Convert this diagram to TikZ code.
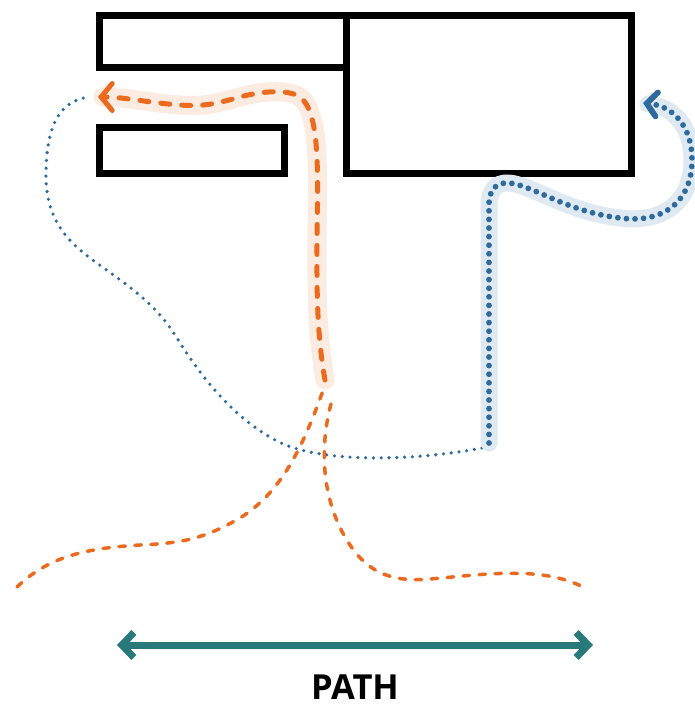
\documentclass[tikz,border=0pt]{standalone}
\usepackage{fontspec}
\setmainfont{Open Sans}
\usetikzlibrary{arrows.meta}
\definecolor{orangeC}{HTML}{EC6A1E}
\definecolor{orangeHalo}{HTML}{FCEBE1}
\definecolor{blueC}{HTML}{2E6A9C}
\definecolor{blueHalo}{HTML}{DFE9F2}
\definecolor{tealC}{HTML}{28797A}
\tikzset{
  wall/.style={draw=black, line width=7pt, miter limit=10},
  thickdash/.style={draw=orangeC, line width=5pt, line cap=round, dash pattern=on 9pt off 12pt},
  orangehalo/.style={draw=orangeHalo, line width=19pt, line cap=round, line join=round},
  thickdots/.style={draw=blueC, line width=5.8pt, line cap=round, dash pattern=on 0pt off 8.6pt},
  bluehalo/.style={draw=blueHalo, line width=17pt, line cap=round, line join=round},
  thindash/.style={draw=orangeC, line width=3.5pt, line cap=round, dash pattern=on 6.5pt off 9.5pt},
  thindots/.style={draw=blueC, line width=3.6pt, line cap=round, dash pattern=on 0pt off 7.8pt},
  obarb/.style={-{Straight Barb[length=11pt,width=27pt,line cap=round]}},
  bbarb/.style={-{Straight Barb[length=10pt,width=24pt,line cap=round]}},
  tbarb/.style={{Straight Barb[length=12pt,width=25pt,line cap=butt]}-{Straight Barb[length=12pt,width=25pt,line cap=butt]}},
  label/.style={font=\fontsize{34.5}{34.5}\selectfont\bfseries, inner sep=0pt, anchor=base}
}
\begin{document}
\begin{tikzpicture}[x=1pt,y=-1pt]
\useasboundingbox[fill=white] (0,0) rectangle (694,706);

% walls
\draw[wall] (99.5,15.5) rectangle (346.5,67.5);
\draw[wall] (346.5,15.5) rectangle (631,173.5);
\draw[wall] (99.5,127.5) rectangle (284.5,173.5);

% thin blue dotted route
\draw[thindots] (482,448) .. controls (420,460) and (320,465) .. (275,440)
  .. controls (230,415) and (200,375) .. (175,335)
  .. controls (150,295) and (110,275) .. (80,250)
  .. controls (55,228) and (45,205) .. (46,170)
  .. controls (47,125) and (60,100) .. (90,97);

% thin orange dashed routes
\draw[thindash] (17,587) .. controls (50,555) and (90,548) .. (140,545)
  .. controls (185,543) and (205,538) .. (240,518)
  .. controls (285,490) and (305,440) .. (324,388);
\draw[thindash] (331,404) .. controls (320,445) and (320,500) .. (350,545)
  .. controls (370,575) and (395,582) .. (430,579)
  .. controls (480,575) and (540,565) .. (583,587);

% highlighted orange route
\draw[orangehalo] (325,380) .. controls (316,330) and (317,280) .. (317,240)
  .. controls (318,170) and (320,112) .. (300,97)
  .. controls (288,89) and (262,91) .. (240,97)
  .. controls (218,103) and (205,107) .. (180,105)
  .. controls (150,103) and (125,97) .. (103,97);
\draw[thickdash,obarb] (325,380) .. controls (316,330) and (317,280) .. (317,240)
  .. controls (318,170) and (320,112) .. (300,97)
  .. controls (288,89) and (262,91) .. (240,97)
  .. controls (218,103) and (205,107) .. (180,105)
  .. controls (150,103) and (125,97) .. (98,97);

% highlighted blue route
\draw[bluehalo] (489,443) -- (489,205) .. controls (489,188) and (498,180) .. (515,184)
  .. controls (540,190) and (570,212) .. (620,218)
  .. controls (665,224) and (692,200) .. (692,160)
  .. controls (692,125) and (672,106) .. (648,104);
\draw[thickdots,bbarb] (489,443) -- (489,205) .. controls (489,188) and (498,180) .. (515,184)
  .. controls (540,190) and (570,212) .. (620,218)
  .. controls (665,224) and (692,200) .. (692,160)
  .. controls (692,125) and (672,106) .. (643,103);

% path arrow
\coordinate (pl) at (117,645);
\coordinate (pr) at (593,645);
\draw[draw=tealC, line width=7pt, tbarb] (pl) -- (pr);
\node[label] (pathlabel) at (355,699) {PATH};
\end{tikzpicture}
\end{document}
